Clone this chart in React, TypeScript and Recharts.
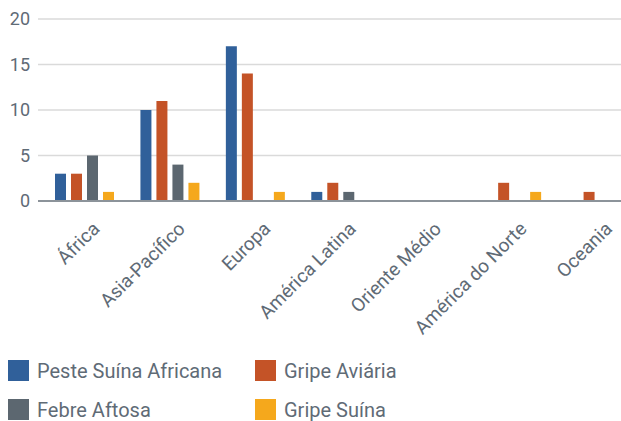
import React from "react";
import { Bar, BarChart, CartesianGrid, Legend, XAxis, YAxis } from "recharts";

const regions = ["África", "Asia-Pacífico", "Europa", "América Latina", "Oriente Médio", "América do Norte", "Oceania"];
const pesteSuina = [3, 10, 17, 1, 0, 0, 0];
const gripeAviaria = [3, 11, 14, 2, 0, 2, 1];
const febreAftosa = [5, 4, 0, 1, 0, 0, 0];
const gripeSuina = [1, 2, 1, 0, 0, 1, 0];
const yTicks = [0, 5, 10, 15, 20];

const series = [
  { key: "peste", name: "Peste Suína Africana", color: "#30609a" },
  { key: "aviaria", name: "Gripe Aviária", color: "#c45327" },
  { key: "aftosa", name: "Febre Aftosa", color: "#5c6770" },
  { key: "suina", name: "Gripe Suína", color: "#f5a81c" },
];

const data = regions.map((region, i) => ({
  region,
  peste: pesteSuina[i],
  aviaria: gripeAviaria[i],
  aftosa: febreAftosa[i],
  suina: gripeSuina[i],
}));

const textColor = "#5f6b76";
const font = "Roboto, 'Noto Sans', sans-serif";

function RegionTick({ x, y, payload }: any) {
  return (
    <g transform={`translate(${x + 16},${y + 21})`}>
      <text textAnchor="end" transform="rotate(-45)" fill={textColor} fontSize={19} fontFamily={font}>
        {payload.value}
      </text>
    </g>
  );
}

function LegendBox() {
  return (
    <div style={{ height: 88, position: "relative", fontFamily: font, color: textColor, fontSize: 20 }}>
      {series.map((s, i) => (
        <div
          key={s.key}
          style={{
            position: "absolute",
            left: i % 2 === 0 ? 8 : 255,
            top: Math.floor(i / 2) * 39 + 8,
            display: "flex",
            alignItems: "center",
            height: 21,
            whiteSpace: "nowrap",
          }}
        >
          <span style={{ width: 21, height: 21, background: s.color, display: "inline-block", marginRight: 8 }} />
          <span>{s.name}</span>
        </div>
      ))}
    </div>
  );
}

export default function App() {
  return (
    <div style={{ position: "absolute", left: 0, top: 0, width: 621, height: 421, overflow: "hidden" }}>
      <BarChart
        width={640}
        height={440}
        data={data}
        margin={{ top: 19, right: 0, bottom: 0, left: 0 }}
        barSize={11}
        barGap={5}
      >
        <CartesianGrid vertical={false} stroke="#dadada" strokeWidth={1.5} />
        <XAxis
          dataKey="region"
          interval={0}
          height={151}
          tick={<RegionTick />}
          tickLine={false}
          axisLine={{ stroke: "#8c939a", strokeWidth: 2 }}
          padding={{ left: 4, right: 0 }}
        />
        <YAxis
          width={38}
          domain={[0, 20]}
          ticks={yTicks}
          tickLine={false}
          axisLine={false}
          tick={{ fill: textColor, fontSize: 18, fontFamily: font }}
        />
        <Legend
          verticalAlign="bottom"
          align="left"
          wrapperStyle={{ top: 352, left: 0 }}
          content={() => <LegendBox />}
        />
        {series.map((s) => (
          <Bar key={s.key} dataKey={s.key} name={s.name} fill={s.color} isAnimationActive={false} />
        ))}
      </BarChart>
    </div>
  );
}
